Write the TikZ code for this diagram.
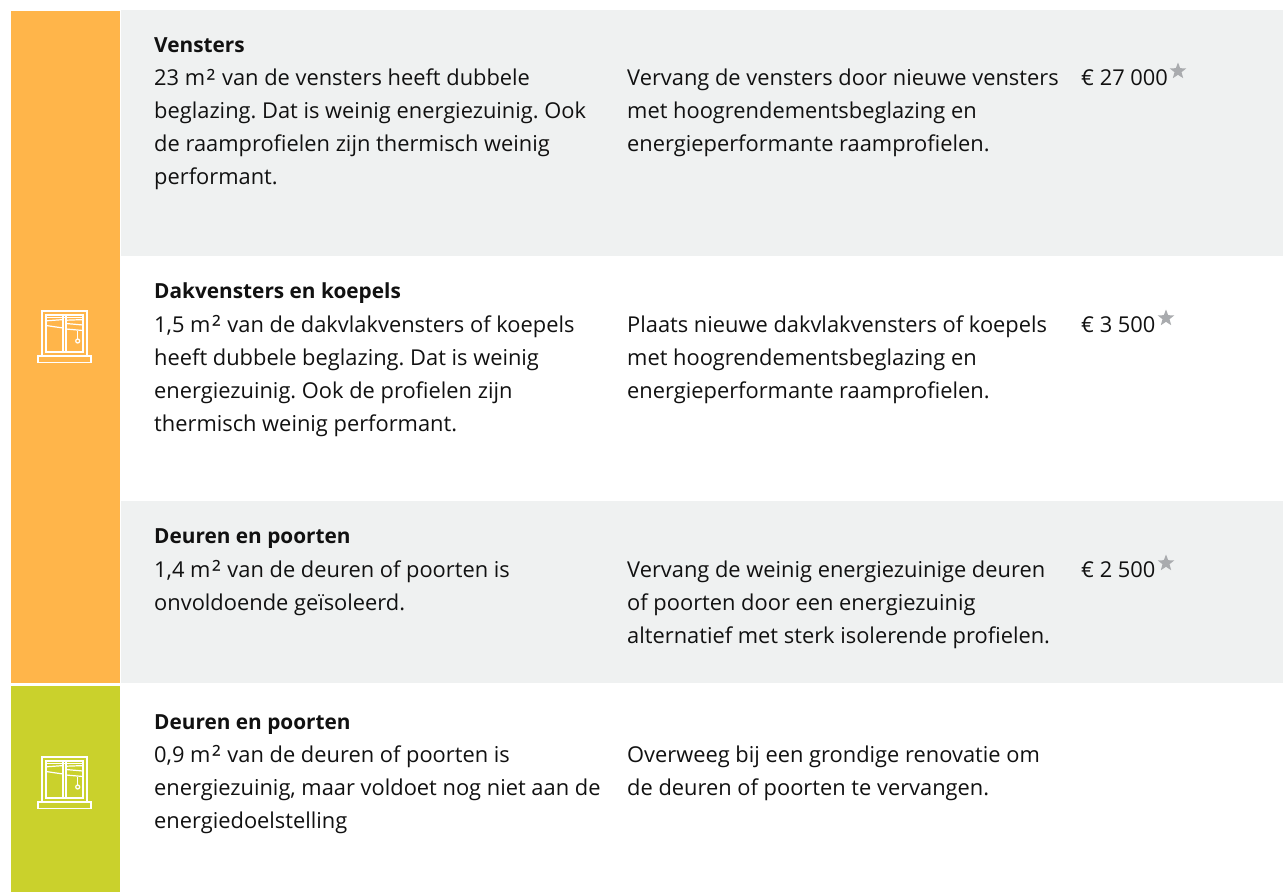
\documentclass[tikz,border=0pt]{standalone}
\usepackage{graphicx}
\usepackage{fontspec}
\setmainfont{Open Sans}
\definecolor{orangeband}{HTML}{FFB54A}
\definecolor{greenband}{HTML}{CAD12C}
\definecolor{rowgray}{HTML}{EFF1F1}
\definecolor{stargray}{HTML}{A9ABAE}
\definecolor{ink}{HTML}{111111}
\tikzset{
  body/.style={anchor=base west,inner sep=0pt,align=left,text=ink,font=\fontsize{21.85}{33}\selectfont},
  head/.style={anchor=base west,inner sep=0pt,text=ink,font=\fontsize{20.8}{33}\selectfont\bfseries},
  icon/.style={draw=white,line width=1.7pt,fill=none},
  iconthin/.style={draw=white,line width=1.2pt,fill=none},
  pricestar/.style={fill=stargray,draw=none},
}
\newcommand{\sqm}{m\kern1.5pt\raisebox{-1.5pt}{\scalebox{1.15}{²}}\kern1pt}
\newcommand{\windowicon}[1]{%
  \begin{scope}[shift={(0,#1)}]
    \draw[icon] (42,311) rectangle (87,356);
    \draw[icon] (38,356) rectangle (91,362.5);
    \draw[icon] (46,315) rectangle (83,352);
    \draw[icon] (63,315) -- (63,352) (66,315) -- (66,352);
    \draw[iconthin] (46,317.8) -- (83,317.8);
    \draw[iconthin] (46,320.8) -- (63,319.6);
    \draw[iconthin] (46,325.5) -- (63,328);
    \draw[iconthin] (66,320.2) -- (83,319.6);
    \draw[iconthin] (66,323.5) -- (83,325);
    \draw[iconthin] (66,329) -- (83,330.5);
    \draw[iconthin] (77.7,330.5) -- (77.7,339);
    \draw[iconthin] (77.7,341) circle (2);
  \end{scope}}
\newcommand{\pstar}[2]{%
  \fill[pricestar] (#1,#2-8.5)
  -- (#1+2.2,#2-2.8) -- (#1+8.3,#2-2.6) -- (#1+3.5,#2+1.2) -- (#1+5.2,#2+7.2)
  -- (#1,#2+3.8) -- (#1-5.2,#2+7.2) -- (#1-3.5,#2+1.2) -- (#1-8.3,#2-2.6) -- (#1-2.2,#2-2.8) -- cycle;}
\begin{document}
\frenchspacing
\begin{tikzpicture}[x=1pt,y=-1pt]
\useasboundingbox (0,0) rectangle (1283,892);
\fill[white] (0,0) rectangle (1283,892);
\fill[orangeband] (11,11) rectangle (120,683);
\fill[greenband] (11,686) rectangle (120,892);
\fill[rowgray] (121,10) rectangle (1283,256);
\fill[rowgray] (121,501) rectangle (1283,683);
\windowicon{0}
\windowicon{446}

\node[head] (t1) at (154,52) {Vensters};
\node[body] (a1) at (154,184.5) {23 \sqm{} van de vensters heeft dubbele\\beglazing. Dat is weinig energiezuinig. Ook\\de raamprofielen zijn thermisch weinig\\performant.};
\node[body] (b1) at (627,151.5) {Vervang de vensters door nieuwe vensters\\met hoogrendementsbeglazing en\\energieperformante raamprofielen.};
\node[body] (p1) at (1081,85.5) {€ 27 000};
\pstar{1178}{71}

\node[head] (t2) at (154,298.5) {Dakvensters en koepels};
\node[body] (a2) at (154,431) {1,5 \sqm{} van de dakvlakvensters of koepels\\heeft dubbele beglazing. Dat is weinig\\energiezuinig. Ook de profielen zijn\\thermisch weinig performant.};
\node[body] (b2) at (627,398) {Plaats nieuwe dakvlakvensters of koepels\\met hoogrendementsbeglazing en\\energieperformante raamprofielen.};
\node[body] (p2) at (1081,332) {€ 3 500};
\pstar{1166}{318}

\node[head] (t3) at (154,543.5) {Deuren en poorten};
\node[body] (a3) at (154,610) {1,4 \sqm{} van de deuren of poorten is\\onvoldoende geïsoleerd.};
\node[body] (b3) at (627,643) {Vervang de weinig energiezuinige deuren\\of poorten door een energiezuinig\\alternatief met sterk isolerende profielen.};
\node[body] (p3) at (1081,577) {€ 2 500};
\pstar{1166}{563}

\node[head] (t4) at (154,729) {Deuren en poorten};
\node[body] (a4) at (154,828) {0,9 \sqm{} van de deuren of poorten is\\energiezuinig, maar voldoet nog niet aan de\\energiedoelstelling};
\node[body] (b4) at (627,795) {Overweeg bij een grondige renovatie om\\de deuren of poorten te vervangen.};
\end{tikzpicture}
\end{document}
